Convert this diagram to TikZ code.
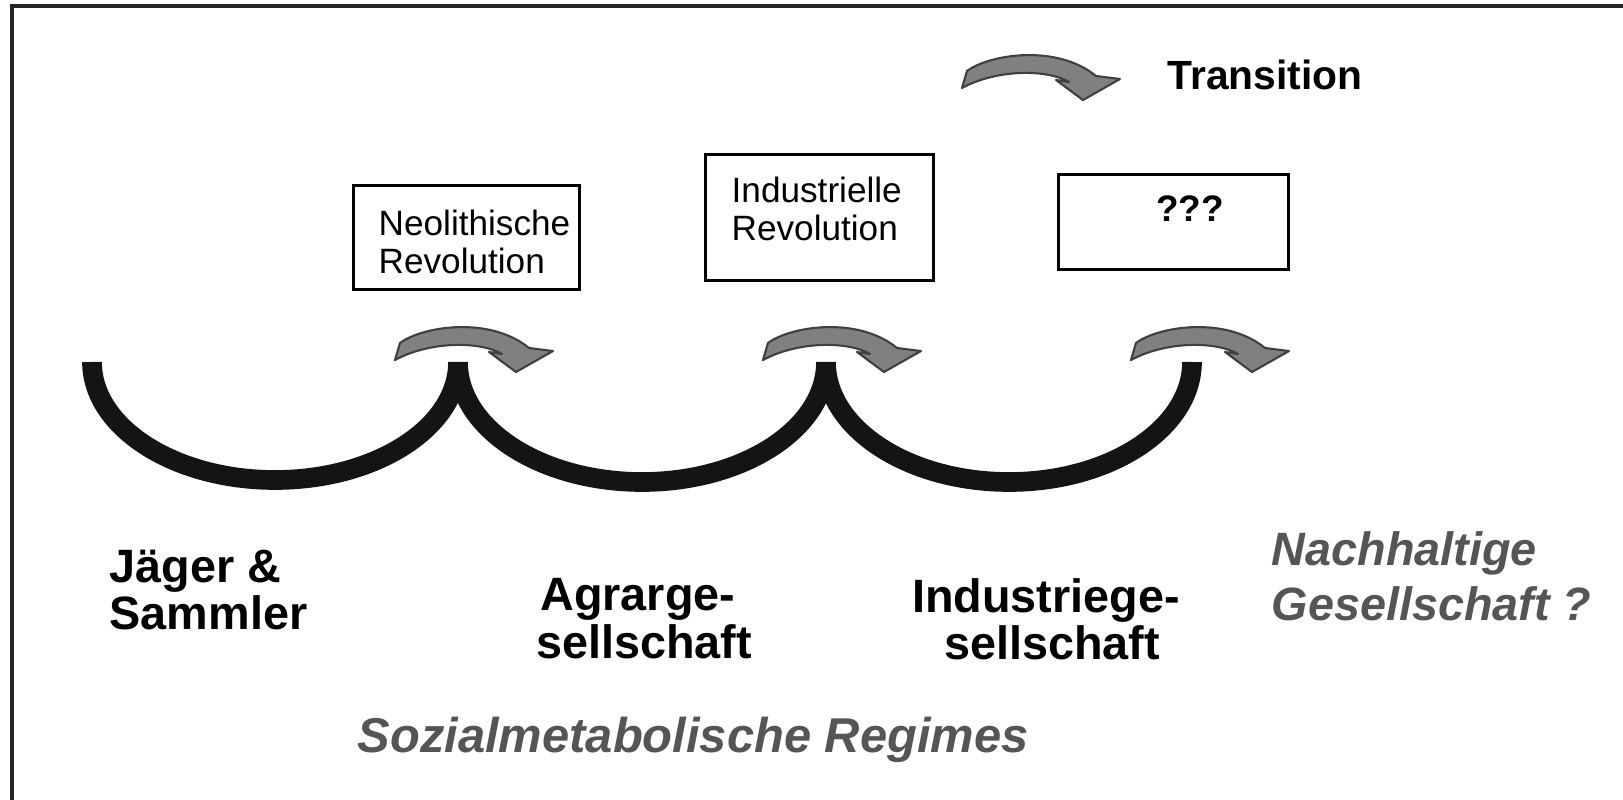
\documentclass[tikz,border=0pt]{standalone}
\usepackage{fontspec}
\setmainfont{Liberation Sans}
\definecolor{arrowgray}{RGB}{128,128,128}
\definecolor{textgray}{RGB}{85,85,85}
\begin{document}
\begin{tikzpicture}[x=0.01cm,y=-0.01cm,
  frame/.style={line width=0.9pt,black!85},
  regime/.style={line width=5.6pt,black!92},
  boxstyle/.style={draw,line width=0.75pt,inner sep=0pt,anchor=north west},
  boxtext/.style={inner sep=0pt,anchor=north west,align=left,font=\fontsize{10pt}{10.8pt}\selectfont},
  biglabel/.style={inner sep=0pt,font=\fontsize{13.3pt}{10.8pt}\selectfont\bfseries},
  graylabel/.style={inner sep=0pt,text=textgray,font=\fontsize{13.3pt}{15.6pt}\selectfont\bfseries\itshape},
  arrowstyle/.style={fill=arrowgray,draw=black!75,line width=0.6pt,line join=round},
  turnarrow/.pic={
    \filldraw[arrowstyle] (0,36) -- (5,19) .. controls (28,2) and (95,-8) .. (134,24)
      -- (158,27) -- (121,48) -- (94,28) -- (107,30)
      .. controls (85,17) and (35,17) .. (0,36) -- cycle;
  }]
\useasboundingbox (0,0) rectangle (1623,800);
% frame (top and left only)
\coordinate (ftr) at (1623,6);
\coordinate (ftl) at (12,6);
\coordinate (fbl) at (12,800);
\draw[frame] (ftr) -- (ftl) -- (fbl);

% legend arrow
\pic at (962,52) {turnarrow};
\node[inner sep=0pt,anchor=base west,font=\fontsize{11.6pt}{13pt}\selectfont\bfseries] (trans) at (1167,90) {Transition};

% boxes
\node[boxstyle,minimum width=2.26cm,minimum height=1.04cm] (neo) at (352,184) {};
\node[boxtext] (neot) at (378,209) {Neolithische\\Revolution};
\node[boxstyle,minimum width=2.28cm,minimum height=1.26cm] (ind) at (704,153) {};
\node[boxtext] (indt) at (731,176) {Industrielle\\Revolution};
\node[boxstyle,minimum width=2.30cm,minimum height=0.95cm] (unk) at (1057,173) {};
\node[inner sep=0pt,anchor=north,font=\fontsize{10.5pt}{12pt}\selectfont\bfseries] (unkt) at (1190,195) {???};

% regime curves
\coordinate (c0) at (92,362);
\coordinate (c1) at (458,362);
\coordinate (c2) at (826,362);
\coordinate (c3) at (1192,362);
\draw[regime] (c0) arc[start angle=180,end angle=0,x radius=183,y radius=118];
\draw[regime] (c1) arc[start angle=180,end angle=0,x radius=184,y radius=120];
\draw[regime] (c2) arc[start angle=180,end angle=0,x radius=183,y radius=120];

% transition arrows
\pic at (395,324) {turnarrow};
\pic at (763,324) {turnarrow};
\pic at (1131,324) {turnarrow};

% regime labels
\node[biglabel,anchor=north west,align=left] (jaeger) at (109,549) {Jäger \&\\Sammler};
\node[biglabel,anchor=north,align=center] (agrar) at (644,578) {Agrarge-\kern3.5pt\\sellschaft};
\node[biglabel,anchor=north,align=center] (indus) at (1052,578) {Industriege-\kern3.5pt\\sellschaft};
\node[graylabel,anchor=north west,align=left] (nach) at (1271,531) {Nachhaltige\\Gesellschaft ?};
\node[graylabel,anchor=north west,font=\fontsize{13.9pt}{15.6pt}\selectfont\bfseries\itshape] (sozial) at (357,716) {Sozialmetabolische Regimes};
\end{tikzpicture}
\end{document}
